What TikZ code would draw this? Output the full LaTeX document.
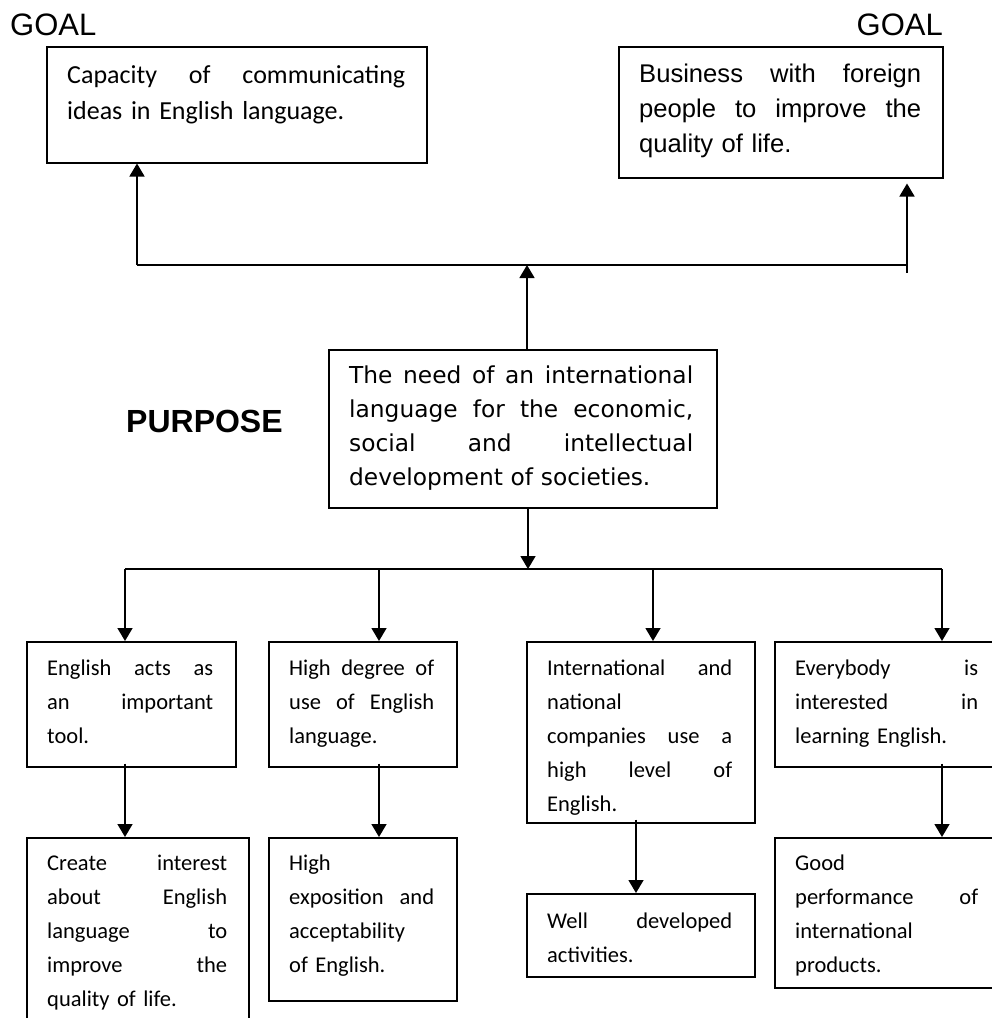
\documentclass[tikz,border=0pt]{standalone}
\usepackage{fontspec}
\setmainfont{Carlito}
\newfontfamily\arialfont{Liberation Sans}
\newfontfamily\needfont{DejaVu Sans}
\usetikzlibrary{arrows.meta}
\newcommand{\jl}[1]{\makebox[\hsize][s]{\spaceskip=0pt\xspaceskip=0pt #1}}

\begin{document}
\begin{tikzpicture}[x=1pt,y=-1pt,
  box/.style={draw,line width=1.5pt,inner sep=0pt,anchor=north west},
  txt/.style={inner sep=0pt,anchor=base west,align=left},
  small/.style={font=\fontsize{22.5}{34}\selectfont},
  arr/.style={line width=1.5pt,-{Triangle[width=15pt,length=13pt]}}]
\useasboundingbox (0,0) rectangle (992,1018);

% headings
\node[txt,font=\arialfont\fontsize{31}{31}\selectfont] (goalL) at (10,35) {GOAL};
\node[txt,anchor=base east,font=\arialfont\fontsize{31}{31}\selectfont] (goalR) at (943,35) {GOAL};
\node[txt,font=\arialfont\bfseries\fontsize{32}{32}\selectfont] (purpose) at (126,432) {PURPOSE};

% goals
\node[box,minimum width=380,minimum height=116] (capacity) at (46,46) {};
\node[txt,text width=338,font=\fontsize{26}{36}\selectfont] (capacity-t) at (67,83)
  {\jl{Capacity of communicating}\\ideas in English language.};
\node[box,minimum width=324,minimum height=131] (business) at (618,46) {};
\node[txt,text width=282,font=\arialfont\fontsize{25.6}{35}\selectfont] (business-t) at (639,82)
  {\jl{Business with foreign}\\\jl{people to improve the}\\quality of life.};

% purpose
\node[box,minimum width=388,minimum height=158] (need) at (328,349) {};
\node[txt,text width=344,font=\needfont\fontsize{23.3}{34}\selectfont] (need-t) at (349,383)
  {\jl{The need of an international}\\\jl{language for the economic,}\\\jl{social and intellectual}\\development of societies.};

% first row
\node[box,minimum width=209,minimum height=125] (tool) at (26,641) {};
\node[txt,small,text width=166] (tool-t) at (47,675)
  {\jl{English acts as}\\\jl{an important}\\tool.};
\node[box,minimum width=188,minimum height=125] (degree) at (268,641) {};
\node[txt,small,text width=145] (degree-t) at (289,675)
  {\jl{High degree of}\\\jl{use of English}\\language.};
\node[box,minimum width=228,minimum height=181] (companies) at (526,641) {};
\node[txt,small,text width=185] (companies-t) at (547,675)
  {\jl{International and}\\national\\\jl{companies use a}\\\jl{high level of}\\English.};
\node[box,minimum width=230,minimum height=125] (everybody) at (774,641) {};
\node[txt,small,text width=183] (everybody-t) at (795,675)
  {\jl{Everybody is}\\\jl{interested in}\\learning English.};

% second row
\node[box,minimum width=222,minimum height=200] (interest) at (26,837) {};
\node[txt,small,text width=180] (interest-t) at (47,870)
  {\jl{Create interest}\\\jl{about English}\\\jl{language to}\\\jl{improve the}\\quality of life.};
\node[box,minimum width=188,minimum height=163] (exposition) at (268,837) {};
\node[txt,small,text width=145] (exposition-t) at (289,870)
  {High\\\jl{exposition and}\\acceptability\\of English.};
\node[box,minimum width=228,minimum height=83] (activities) at (526,893) {};
\node[txt,small,text width=185] (activities-t) at (547,928)
  {\jl{Well developed}\\activities.};
\node[box,minimum width=230,minimum height=150] (products) at (774,837) {};
\node[txt,small,text width=183] (products-t) at (795,870)
  {Good\\\jl{performance of}\\international\\products.};

% upper connectors
\coordinate (busL) at (137,265);
\coordinate (busR) at (907,265);
\coordinate (upC) at (527,265);
\draw[line width=1.5pt] (busL) -- (busR) -- ++(0,8);
\draw[arr] (busL) -- (busL |- capacity.south);
\draw[arr,shorten >=5pt] (busR) -- (busR |- business.south);
\draw[arr] (upC |- need.north) -- (upC);

% lower connectors
\coordinate (dnL) at (125,569);
\coordinate (dnR) at (942,569);
\coordinate (dnC) at (528,569);
\draw[line width=1.5pt] (dnL) -- (dnR);
\draw[arr] (dnC |- need.south) -- (dnC);
\foreach \x/\b in {125/tool,379/degree,653/companies,942/everybody}{
  \coordinate (d) at (\x,569);
  \draw[arr] (d) -- (d |- \b.north);
}
\foreach \x/\a/\b in {125/tool/interest,379/degree/exposition,636/companies/activities,942/everybody/products}{
  \coordinate (r) at (\x,0);
  \draw[arr,shorten <=-4pt] (r |- \a.south) -- (r |- \b.north);
}
\end{tikzpicture}
\end{document}
